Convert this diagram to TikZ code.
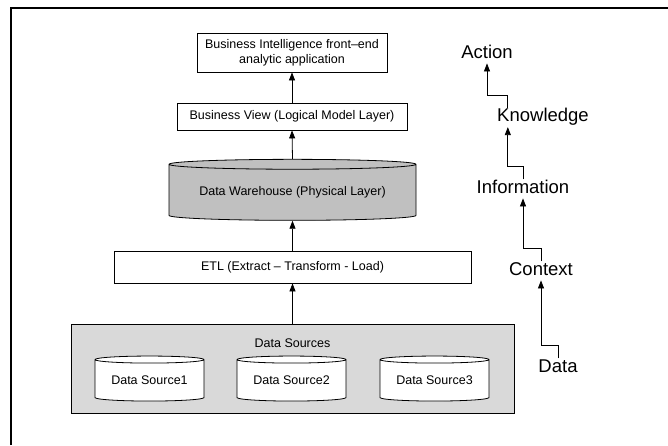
\documentclass[tikz,border=0pt]{standalone}
\usepackage{fontspec}
\setmainfont{Liberation Sans}
\usetikzlibrary{shapes.geometric,arrows.meta}
\definecolor{dwgrey}{RGB}{192,192,192}
\definecolor{dsgrey}{RGB}{217,217,217}
\tikzset{
  layerbox/.style={draw, fill=white, inner sep=0pt, align=center,
    font=\fontsize{12.5}{15}\selectfont},
  store/.style={draw, cylinder, shape border rotate=90, inner sep=0pt,
    font=\fontsize{12.5}{15}\selectfont},
  stage/.style={inner sep=0pt, anchor=base, text height=13.3pt,
    text depth=5pt, font=\fontsize{18.5}{22}\selectfont},
  flow/.style={-{Triangle[width=6pt,length=8pt]}}
}
\begin{document}
\begin{tikzpicture}[x=1pt,y=-1pt,line width=0.8pt]
  \useasboundingbox[fill=white] (0,0) rectangle (668,445);
  % frame
  \draw[line width=2pt] (11,445) -- (11,7.5) -- (668,7.5);
  % layers
  \node[layerbox, minimum width=190pt, minimum height=39pt] (bi) at (292,52.5)
    {Business Intelligence front--end\\analytic application};
  \node[layerbox, minimum width=230pt, minimum height=27pt] (bv) at (292,116.5)
    {Business View (Logical Model Layer)};
  \node[store, fill=dwgrey, minimum width=247pt, minimum height=61pt, aspect=0.053] (dw) at (292.5,192.5)
    {Data Warehouse (Physical Layer)};
  \node[layerbox, minimum width=357pt, minimum height=32pt] (etl) at (292.5,267)
    {ETL (Extract -- Transform - Load)};
  % sources
  \node[draw, fill=dsgrey, minimum width=443pt, minimum height=89pt] (ds) at (292.5,368.5) {};
  \node[font=\fontsize{12.5}{15}\selectfont] (dslabel) at (292.5,343) {Data Sources};
  \node[store, fill=white, minimum width=109pt, minimum height=45pt, aspect=0.092] (src1) at (149.5,380.5) {Data Source1};
  \node[store, fill=white, minimum width=109pt, minimum height=45pt, aspect=0.092] (src2) at (291.5,380.5) {Data Source2};
  \node[store, fill=white, minimum width=109pt, minimum height=45pt, aspect=0.092] (src3) at (434.5,380.5) {Data Source3};
  % flows
  \draw[flow] (ds.north) -- (etl.south);
  \draw[flow] (etl.north) -- (dw.south);
  \draw[flow] (dw.north) -- (bv.south);
  \draw[flow] (bv.north) -- (bi.south);
  % stages
  \node[stage] (action) at (487,58) {Action};
  \node[stage] (knowledge) at (543,121.7) {Knowledge};
  \node[stage] (information) at (523,193) {Information};
  \node[stage] (context) at (541,275) {Context};
  \node[stage] (data) at (558,372) {Data};
  \draw[flow] (data.north) -- ++(0,-13) -| (context.south);
  \draw[flow] (context.north) -- ++(0,-13) -| (information.south);
  \draw[flow] (information.north) -- ++(0,-13) -| ([xshift=11pt]knowledge.south west);
  \draw[flow] ([xshift=11pt]knowledge.north west) -- ++(0,-13) -| (action.south);
\end{tikzpicture}
\end{document}
